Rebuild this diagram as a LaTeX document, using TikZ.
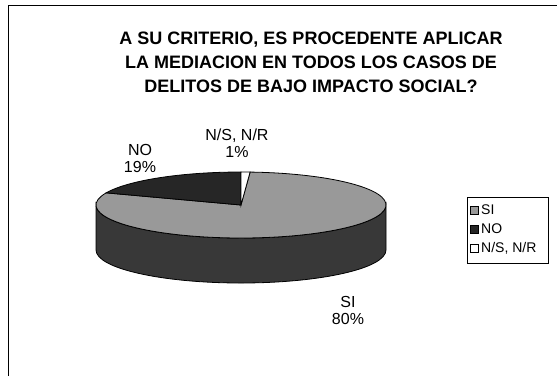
\documentclass[tikz,border=0pt]{standalone}
\usepackage{fontspec}
\setmainfont{Liberation Sans}
\usepackage{tikz}

\tikzset{
  lbl/.style={font=\fontsize{16}{17}\selectfont, align=center, inner sep=0pt},
  legtext/.style={font=\fontsize{14}{16}\selectfont, anchor=west, inner sep=0pt},
  swatch/.style={draw=black, line width=0.8pt, minimum size=8pt, inner sep=0pt},
  pieline/.style={draw=black, line width=0.8pt},
}
\colorlet{sitop}{black!40}
\colorlet{notop}{black!85}
\colorlet{pieside}{black!78}

\begin{document}
\begin{tikzpicture}[x=1pt,y=-1pt]
    \useasboundingbox (0,0) rectangle (557,376);

    % chart frame (runs off the page at right and bottom)
    \coordinate (fbl) at (8,376);
    \coordinate (ftl) at (8,5);
    \coordinate (ftr) at (557,5);
    \draw[line width=1pt] (fbl) -- (ftl) -- (ftr);

    % title
    \node[font=\bfseries\fontsize{18}{24}\selectfont, align=center] (title) at (311,62)
        {A SU CRITERIO, ES PROCEDENTE APLICAR\\LA MEDIACION EN TODOS LOS CASOS DE\\DELITOS DE BAJO IMPACTO SOCIAL?};

    % pie
    \coordinate (c) at (241,205);
    \coordinate (pl) at (96,205);
    \coordinate (pr) at (386,205);

    % side
    \filldraw[pieline, fill=pieside] (pr) -- ++(0,45)
        arc[start angle=0, end angle=180, x radius=145, y radius=33]
        -- (pl) arc[start angle=180, end angle=0, x radius=145, y radius=33] -- cycle;

    % top: SI, NO, N/S N/R
    \filldraw[pieline, fill=sitop] (c) -- ++(273.6:145 and 33)
        arc[start angle=273.6, end angle=561.6, x radius=145, y radius=33] -- cycle;
    \filldraw[pieline, fill=notop] (c) -- ++(201.6:145 and 33)
        arc[start angle=201.6, end angle=270, x radius=145, y radius=33] -- cycle;
    \filldraw[pieline, fill=white] (c) -- ++(270:145 and 33)
        arc[start angle=270, end angle=273.6, x radius=145, y radius=33] -- cycle;

    % data labels
    \node[lbl] (nolbl) at (140,158) {NO\\19\%};
    \node[lbl] (nslbl) at (237,143) {N/S, N/R\\1\%};
    \node[lbl] (silbl) at (348,310) {SI\\80\%};

    % legend
    \node[draw=black, line width=0.8pt, minimum width=81pt, minimum height=66pt] (legend) at (507.5,230) {};
    \node[swatch, fill=sitop] (sw1) at (474,210) {};
    \node[swatch, fill=notop] (sw2) at (474,229) {};
    \node[swatch, fill=white] (sw3) at (474,248) {};
    \node[legtext] (lg1) at (481,210) {SI};
    \node[legtext] (lg2) at (481,229) {NO};
    \node[legtext] (lg3) at (481,248) {N/S, N/R};
\end{tikzpicture}
\end{document}
